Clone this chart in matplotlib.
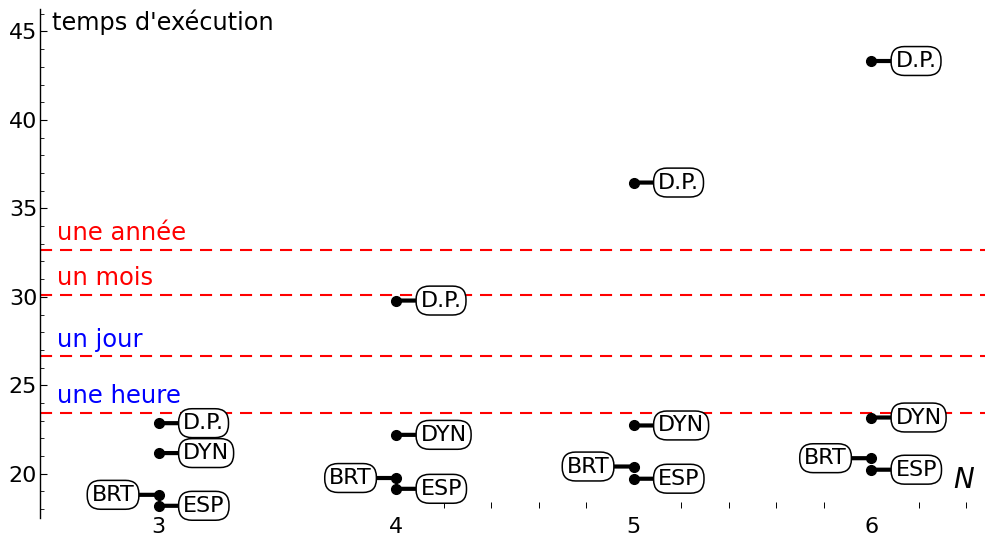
import matplotlib
matplotlib.use("Agg")
import matplotlib.pyplot as plt
from matplotlib.ticker import MultipleLocator, FixedLocator

# Data
N = [3, 4, 5, 6]
dp = [22.86, 29.79, 36.46, 43.33]
dyn = [21.17, 22.20, 22.73, 23.18]
brt = [18.81, 19.76, 20.41, 20.88]
esp = [18.19, 19.15, 19.72, 20.23]

ref_labels = ["une année", "un mois", "un jour", "une heure"]
ref_values = [32.66, 30.11, 26.63, 23.43]
ref_colors = ["#ff0000", "#ff0000", "#0000ff", "#0000ff"]

x_minor_ticks = [4.2, 4.4, 4.6, 4.8, 5.0, 5.2, 5.4, 5.6, 5.8, 6.0, 6.2, 6.4]

plt.rcParams['font.family'] = ['DejaVu Sans']

fig = plt.figure(figsize=(9.85, 5.41), dpi=100)
ax = fig.add_axes([40/985, 23/541, 945/985, 509/541])
ax.set_xlim(2.5, 6.479)
ax.set_ylim(17.5, 46.27)

for s in ['top', 'right']:
    ax.spines[s].set_visible(False)
ax.spines['left'].set_linewidth(1.0)
ax.spines['bottom'].set_position(('data', 18.08))
ax.spines['bottom'].set_color('none')

ax.yaxis.set_major_locator(MultipleLocator(5))
ax.yaxis.set_minor_locator(MultipleLocator(1))
ax.xaxis.set_major_locator(FixedLocator(N))
ax.xaxis.set_minor_locator(FixedLocator(x_minor_ticks))
ax.tick_params(axis='both', which='both', direction='in')
ax.tick_params(axis='y', which='major', length=5, width=0.8, labelsize=16, pad=2)
ax.tick_params(axis='y', which='minor', length=3, width=0.6)
ax.tick_params(axis='x', which='major', length=0, labelsize=16, pad=7)
ax.tick_params(axis='x', which='minor', length=4, width=0.7)

# Reference lines
dash = (0, (5.8, 3.8))
for lab, val, col in zip(ref_labels, ref_values, ref_colors):
    ax.axhline(val, color='#ff0000', lw=1.5, linestyle=dash, zorder=1)
    ax.annotate(lab, xy=(0.018, val), xycoords=('axes fraction', 'data'),
                xytext=(0, 7), textcoords='offset points',
                color=col, fontsize=17.5, ha='left', va='baseline')

def labelled(xs, ys, text, side):
    for x, y in zip(xs, ys):
        ax.plot([x], [y], 'o', color='black', ms=7, zorder=4)
        off = 17.5 if side == 'right' else -17.5
        ax.annotate(text, xy=(x, y), xytext=(off, 0), textcoords='offset points',
                    ha='left' if side == 'right' else 'right', va='center',
                    fontsize=16,
                    bbox=dict(boxstyle='round,pad=0.2,rounding_size=0.6',
                              fc='white', ec='black', lw=1.1),
                    arrowprops=dict(arrowstyle='-', lw=3, color='black',
                                    shrinkA=0, shrinkB=0),
                    zorder=5)

labelled(N, dp, "D.P.", 'right')
labelled(N, dyn, "DYN", 'right')
labelled(N, brt, "BRT", 'left')
labelled(N, esp, "ESP", 'right')

fig.text(52/985, 1 - 22/541, "temps d'exécution", fontsize=17.3, ha='left', va='center')
ax.text(6.39, 19.66, "N", fontsize=20, style='italic', ha='center', va='center')

fig.savefig("out.png", dpi=100)
